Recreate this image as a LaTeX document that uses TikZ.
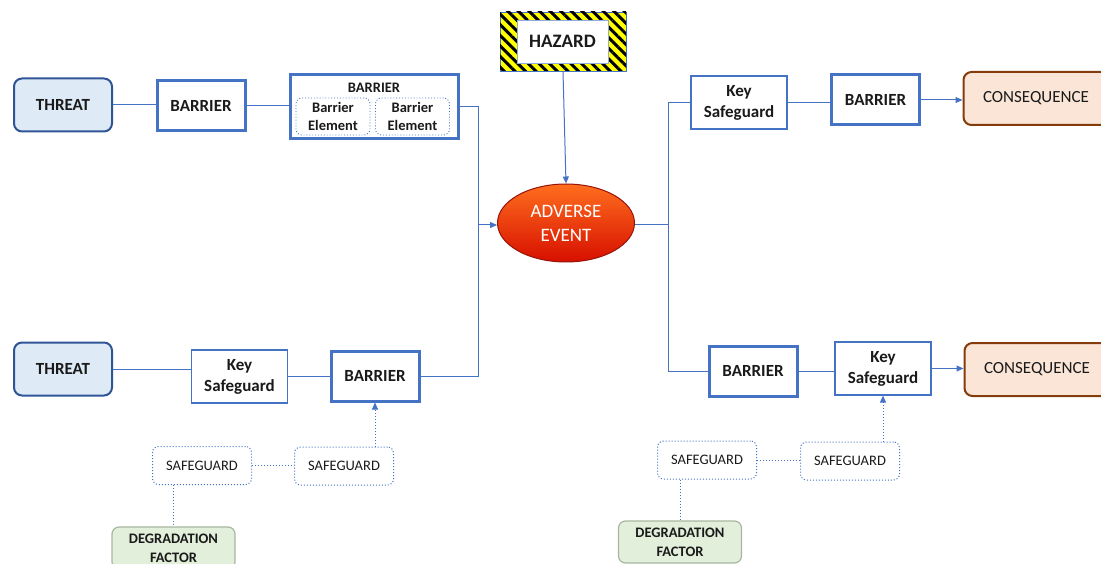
\documentclass[tikz,border=0pt]{standalone}
\usepackage{fontspec}
\setmainfont{Carlito}
\usetikzlibrary{arrows.meta,shapes.geometric,patterns.meta}
\definecolor{ln}{HTML}{4472C4}
\definecolor{threatf}{HTML}{DEEBF7}
\definecolor{threatb}{HTML}{2F5597}
\definecolor{conf}{HTML}{FBE5D6}
\definecolor{conb}{HTML}{843C0C}
\definecolor{dff}{HTML}{E2EFDA}
\definecolor{dfb}{HTML}{A9B5A0}
\definecolor{txt}{HTML}{1A1A1A}
\definecolor{haz}{HTML}{FFFF00}
\begin{document}
\begin{tikzpicture}[x=1pt,y=-1pt,
  every node/.style={text=txt, inner sep=0pt, align=center},
  big/.style={font=\fontsize{17}{21}\selectfont\bfseries},
  threatbox/.style={draw=threatb, line width=2pt, fill=threatf, rounded corners=8pt, minimum width=98pt, minimum height=53pt, big},
  barbox/.style={draw=ln, line width=3pt, fill=white, minimum width=88pt, minimum height=50pt, big},
  keybox/.style={draw=ln, line width=1.2pt, fill=white, minimum width=96pt, minimum height=53pt, big},
  conbox/.style={draw=conb, line width=2pt, fill=conf, rounded corners=8pt, minimum width=145pt, minimum height=53pt, font=\fontsize{17}{21}\selectfont},
  sgbox/.style={draw=ln, dotted, line width=1pt, rounded corners=6pt, minimum width=99pt, minimum height=38pt, font=\fontsize{14.5}{17}\selectfont},
  dfbox/.style={draw=dfb, line width=1.2pt, fill=dff, rounded corners=7pt, minimum width=123pt, minimum height=42pt, font=\fontsize{14.5}{19}\selectfont\bfseries},
  elbox/.style={draw=ln, dotted, line width=0.9pt, rounded corners=6pt, minimum width=74pt, minimum height=37pt, font=\fontsize{14.5}{18}\selectfont\bfseries},
  conn/.style={draw=ln, line width=1pt},
  arr/.style={conn, -{Triangle[length=7pt,width=6pt]}},
  dotconn/.style={conn, dotted}
]
\useasboundingbox (0,0) rectangle (1101,564);
\clip (0,0) rectangle (1101,564);

% ---------- top left branch
\node[threatbox] (t1) at (63,105) {THREAT};
\node[barbox] (b1) at (201,106) {BARRIER};
\node[draw=ln, line width=3pt, fill=white, minimum width=168pt, minimum height=64pt] (bg) at (374,107) {};
\node[font=\fontsize{14.5}{17}\selectfont\bfseries] (bgt) at (374,88) {BARRIER};
\node[elbox] (e1) at (333,116.5) {Barrier\\Element};
\node[elbox] (e2) at (412.5,116.5) {Barrier\\Element};

% ---------- hazard and adverse event
\node[draw=ln, line width=0.8pt, fill=haz, minimum width=126pt, minimum height=59pt,
      postaction={pattern={Lines[angle=-45,distance=7.5pt,line width=3pt]}, pattern color=black}] (hz) at (563,41.5) {};
\node[draw=ln!60, line width=0.8pt, fill=white, minimum width=91pt, minimum height=43pt,
      font=\fontsize{19}{22}\selectfont\bfseries] (hzt) at (562.5,41.5) {HAZARD};
\node[ellipse, draw={rgb,255:red,150;green,20;blue,10}, line width=1pt,
      top color={rgb,255:red,255;green,110;blue,30}, bottom color={rgb,255:red,215;green,15;blue,0},
      minimum width=137pt, minimum height=78pt, text=white, font=\fontsize{19}{24}\selectfont] (ae) at (566,223) {ADVERSE\\EVENT};

% ---------- top right branch
\node[keybox] (k1) at (739,102.5) {Key\\Safeguard};
\node[barbox] (b2) at (875.5,100) {BARRIER};
\node[conbox] (c1) at (1036,98.5) {CONSEQUENCE};

% ---------- bottom left branch
\node[threatbox] (t2) at (63,369) {THREAT};
\node[keybox] (k2) at (239.5,376.5) {Key\\Safeguard};
\node[barbox] (b3) at (375,376) {BARRIER};
\node[sgbox] (s1) at (202,465.5) {SAFEGUARD};
\node[sgbox] (s2) at (344,466) {SAFEGUARD};
\node[dfbox] (d1) at (173.5,548) {DEGRADATION\\FACTOR};

% ---------- bottom right branch
\node[barbox] (b4) at (753,371) {BARRIER};
\node[keybox] (k3) at (883,368.5) {Key\\Safeguard};
\node[conbox] (c2) at (1037,369.5) {CONSEQUENCE};
\node[sgbox] (s3) at (707,460) {SAFEGUARD};
\node[sgbox] (s4) at (850,461) {SAFEGUARD};
\node[dfbox] (d2) at (680,542) {DEGRADATION\\FACTOR};

% ---------- junctions
\coordinate (jl) at (478,225);
\coordinate (jr) at (668,225);

% ---------- connectors
\draw[conn] (t1.east) -- (b1.west |- t1.east);
\draw[conn] (b1.east) -- (bg.west |- b1.east);
\draw[conn] (bg.east) -| (jl);
\draw[conn] (b3.east) -| (jl);
\draw[arr] (jl) -- (ae.west |- jl);
\draw[arr] (hz.south) -- (ae.north);
\draw[conn] (ae.east |- jr) -- (jr);
\draw[conn] (jr) |- (k1.west);
\draw[conn] (jr) |- (b4.west);
\draw[conn] (k1.east) -- (b2.west |- k1.east);
\draw[arr] (b2.east) -- (c1.west |- b2.east);
\draw[conn] (t2.east) -- (k2.west |- t2.east);
\draw[conn] (k2.east) -- (b3.west |- k2.east);
\draw[conn] (b4.east) -- (k3.west |- b4.east);
\draw[arr] (k3.east) -- (c2.west |- k3.east);

\draw[dotconn] (s1.east) -- (s2.west |- s1.east);
\draw[dotconn, -{Triangle[length=7pt,width=6pt]}] (s2.north -| b3.south) -- (b3.south);
\draw[dotconn] (s1.south -| d1.north) -- (d1.north);
\draw[dotconn] (s3.east) -- (s4.west |- s3.east);
\draw[dotconn, -{Triangle[length=7pt,width=6pt]}] (s4.north -| k3.south) -- (k3.south);
\draw[dotconn] (s3.south -| d2.north) -- (d2.north);
\end{tikzpicture}
\end{document}
